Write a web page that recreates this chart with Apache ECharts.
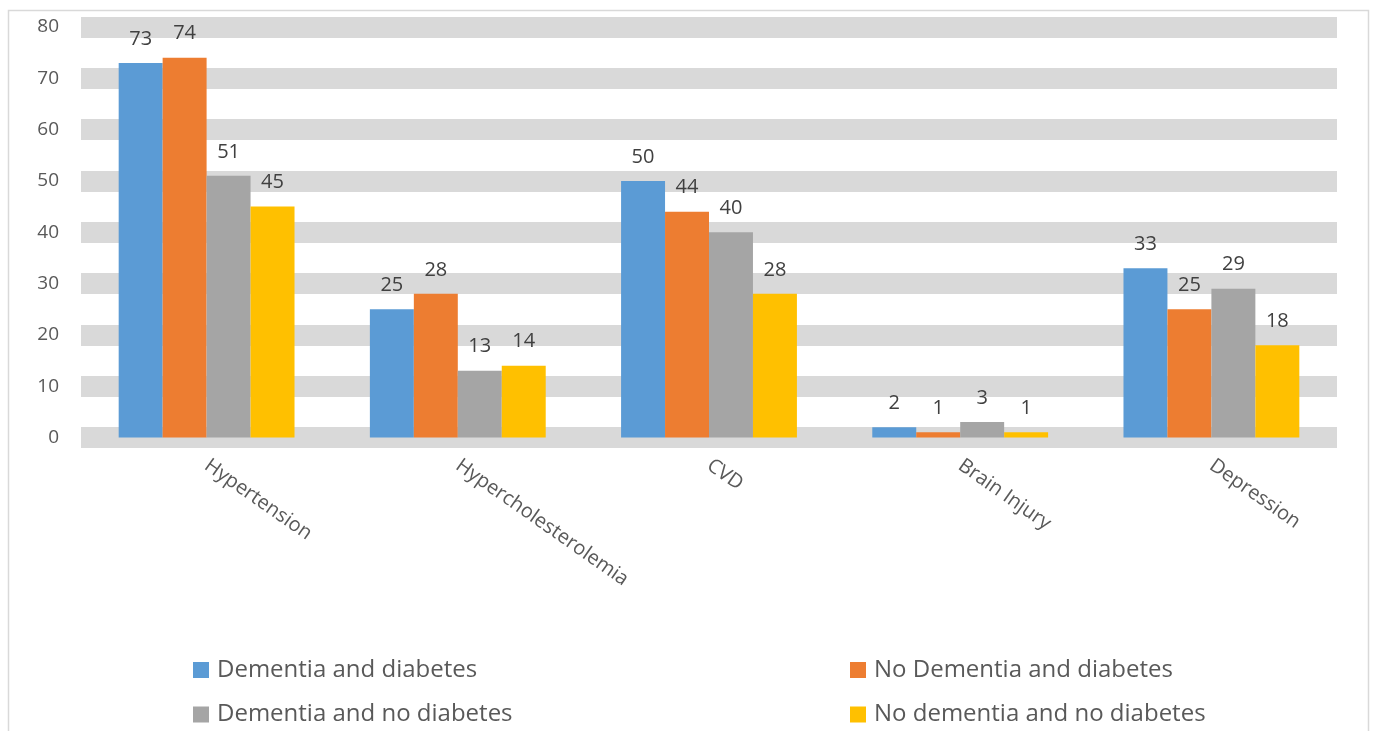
<!DOCTYPE html>
<html>
<head>
<meta charset="utf-8">
<script src="https://cdn.jsdelivr.net/npm/echarts@6/dist/echarts.min.js"></script>
<style>
  html, body { margin: 0; padding: 0; background: #ffffff; }
  #chart { width: 1375px; height: 731px; }
</style>
</head>
<body>
<div id="chart"></div>
<script>
// Comorbidity prevalence (%) by dementia / diabetes group
const categories = ['Hypertension', 'Hypercholesterolemia', 'CVD', 'Brain Injury', 'Depression'];
const dementiaDiabetes = [73, 25, 50, 2, 33];
const noDementiaDiabetes = [74, 28, 44, 1, 25];
const dementiaNoDiabetes = [51, 13, 40, 3, 29];
const noDementiaNoDiabetes = [45, 14, 28, 1, 18];
const seriesNames = [
  'Dementia and diabetes',
  'No Dementia and diabetes',
  'Dementia and no diabetes',
  'No dementia and no diabetes'
];
const seriesValues = [dementiaDiabetes, noDementiaDiabetes, dementiaNoDiabetes, noDementiaNoDiabetes];
const colors = ['#5b9bd5', '#ed7d31', '#a5a5a5', '#ffc000'];

const FONT = '"Open Sans", Lato, sans-serif';

const chart = echarts.init(document.getElementById('chart'), null, { renderer: 'canvas' });

const series = seriesNames.map((name, i) => ({
  name: name,
  type: 'bar',
  data: seriesValues[i],
  itemStyle: { color: colors[i] },
  barGap: '0%',
  barCategoryGap: '30%',
  label: {
    show: true,
    position: 'top',
    distance: 14,
    color: '#404040',
    fontSize: 20,
    fontFamily: FONT
  }
}));

// Legend laid out as a 2x2 block: one legend component per entry
const legendSlots = [
  { left: 193, top: 655 },
  { left: 850, top: 655 },
  { left: 193, top: 699.5 },
  { left: 850, top: 699.5 }
];
const legends = seriesNames.map((name, i) => ({
  left: legendSlots[i].left,
  top: legendSlots[i].top,
  padding: 0,
  itemWidth: 16,
  itemHeight: 16,
  icon: 'rect',
  data: [name],
  textStyle: {
    color: '#595959',
    fontSize: 24,
    lineHeight: 30,
    fontFamily: FONT,
    padding: [0, 0, 0, 3]
  }
}));

chart.setOption({
  animation: false,
  backgroundColor: '#ffffff',
  color: colors,
  graphic: [{
    type: 'rect',
    shape: { x: 8.5, y: 10.5, width: 1360, height: 800 },
    style: { fill: 'none', stroke: '#d9d9d9', lineWidth: 1.5 },
    silent: true,
    z: -10
  }],
  grid: { left: 81, right: 38, top: 27, bottom: 293.5, containLabel: false },
  legend: legends,
  xAxis: {
    type: 'category',
    data: categories,
    axisLine: { show: false },
    axisTick: { show: false },
    axisLabel: {
      rotate: -35,
      margin: 26,
      color: '#595959',
      fontSize: 20,
      fontFamily: FONT,
      interval: 0
    }
  },
  yAxis: {
    type: 'value',
    min: 0,
    max: 80,
    interval: 10,
    axisLine: { show: false },
    axisTick: { show: false },
    axisLabel: {
      margin: 22,
      color: '#595959',
      fontSize: 19,
      fontFamily: FONT
    },
    splitLine: {
      show: true,
      showMinLine: true,
      showMaxLine: true,
      lineStyle: { color: '#d9d9d9', width: 21 }
    }
  },
  series: series
});
</script>
</body>
</html>
